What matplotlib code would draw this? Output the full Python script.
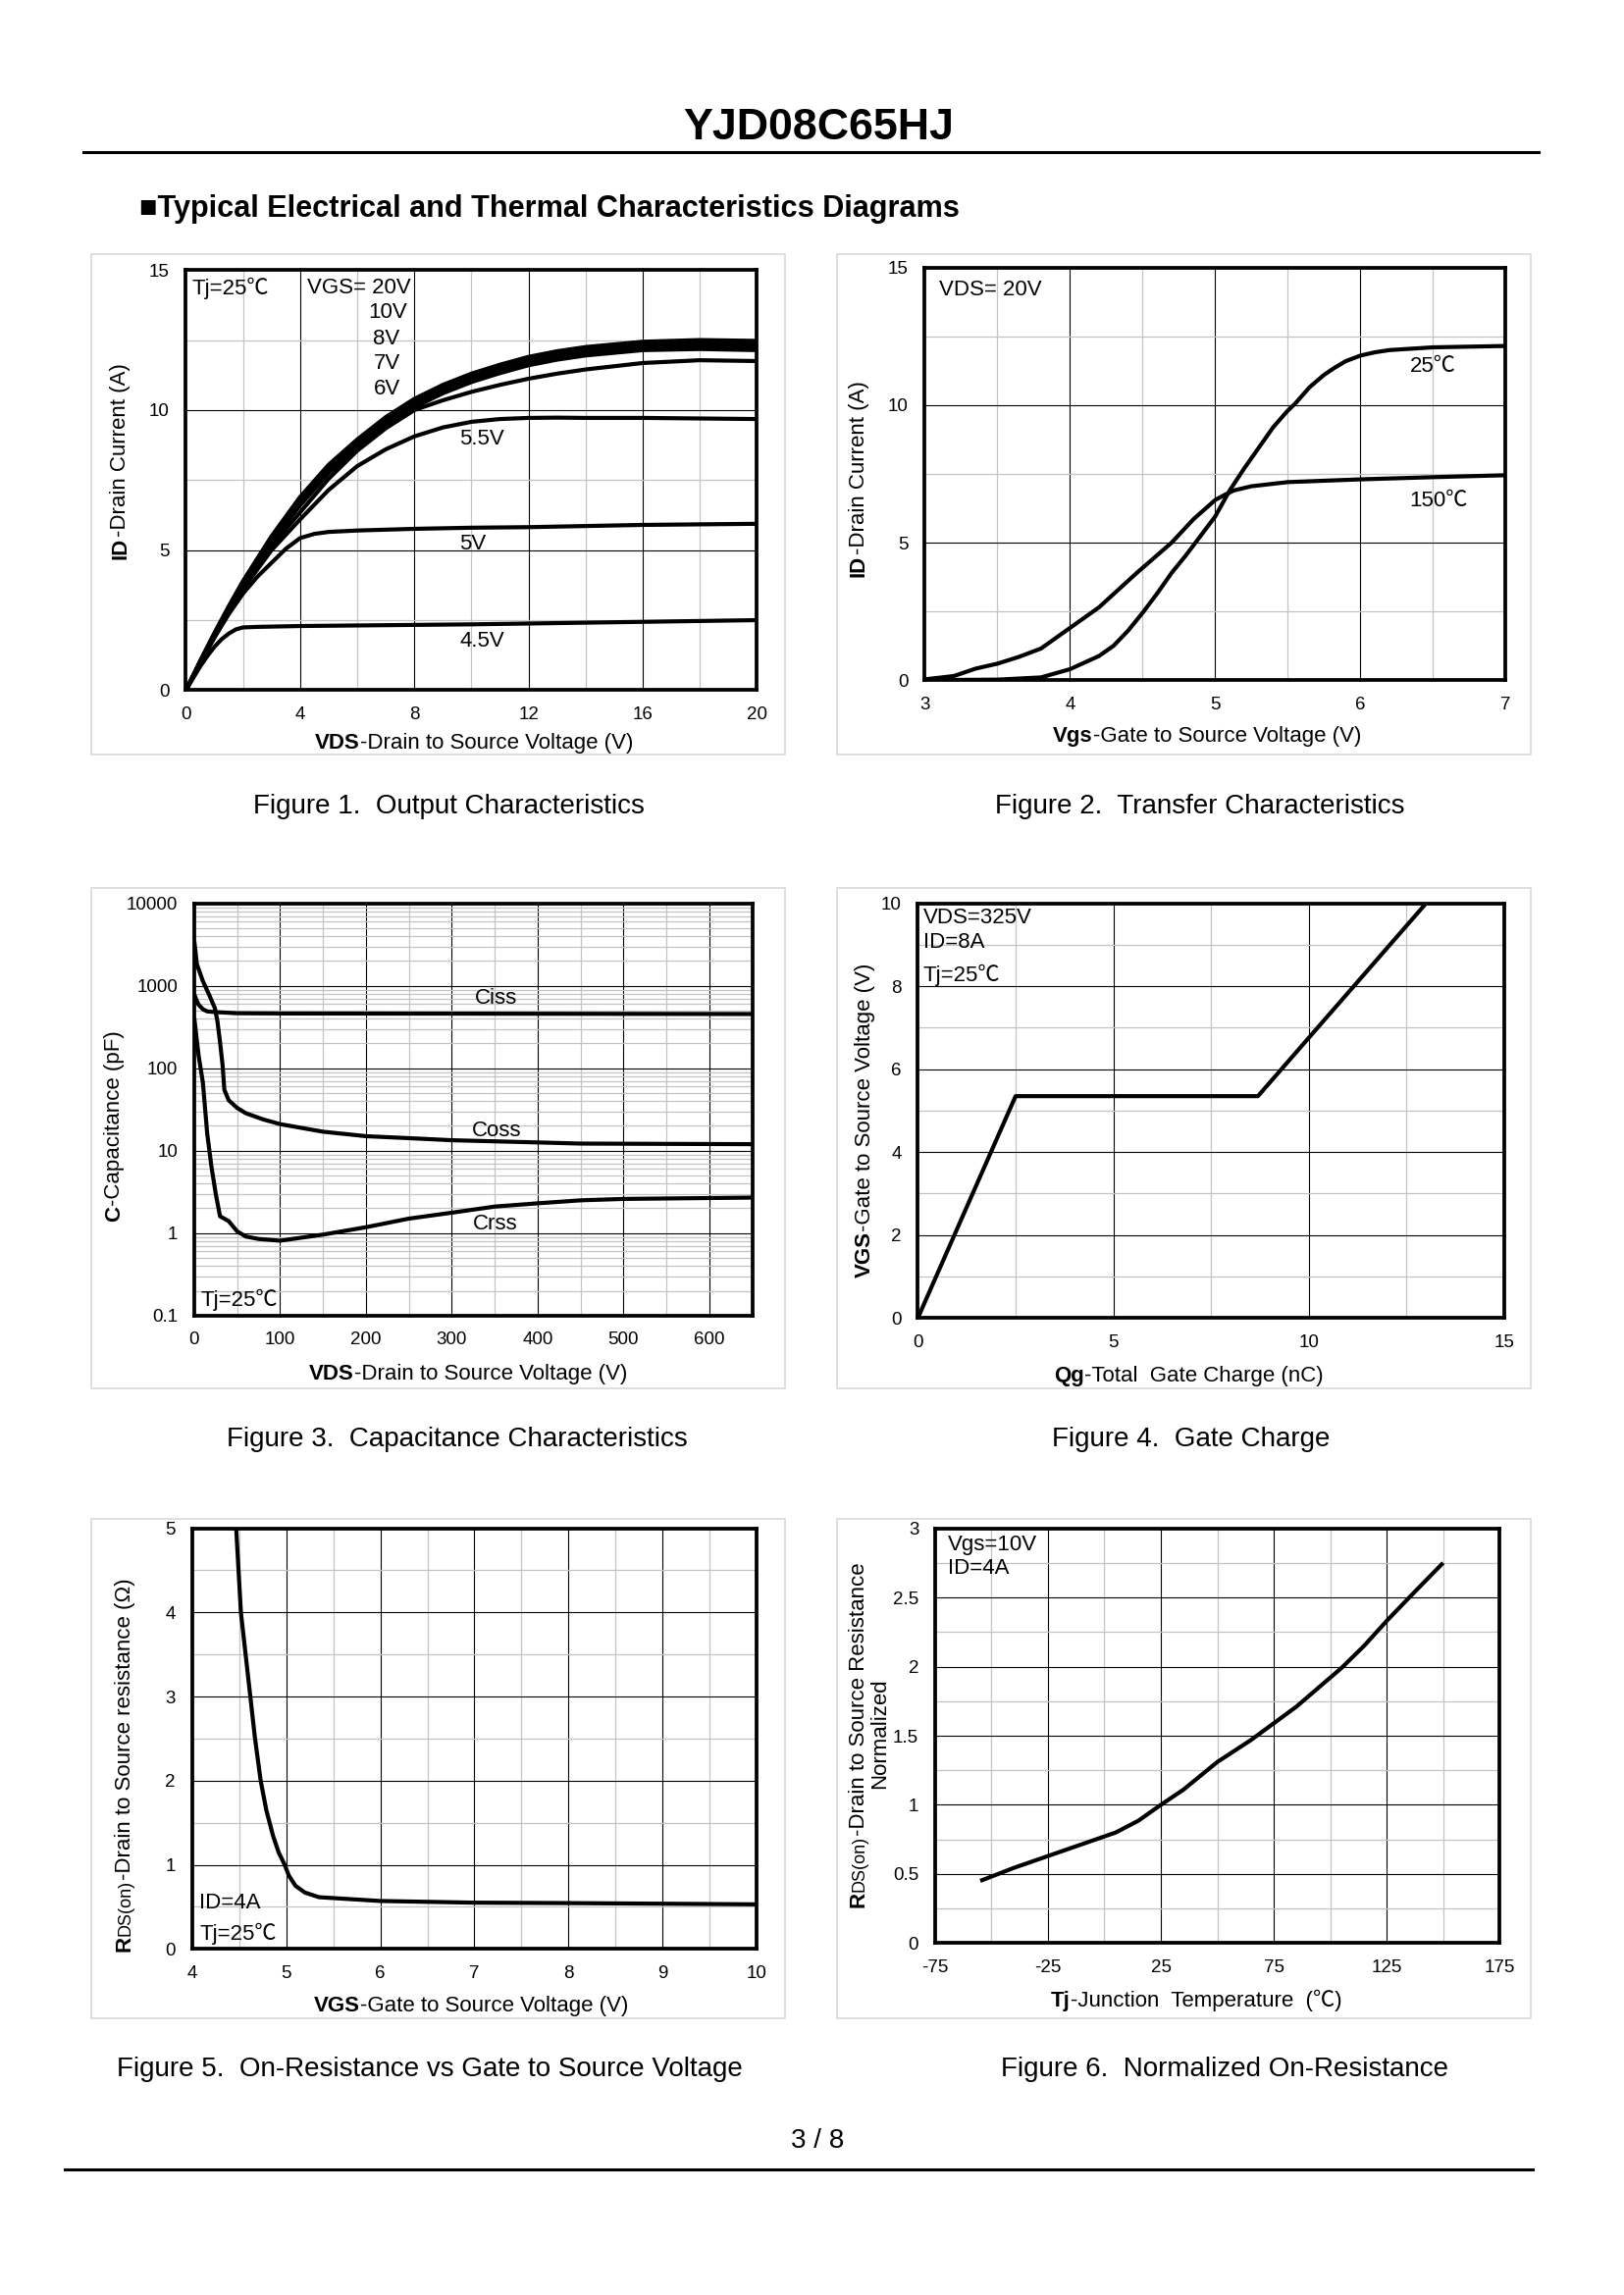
import matplotlib
matplotlib.use('Agg')
import matplotlib.pyplot as plt
import numpy as np
from matplotlib.patches import Rectangle
from matplotlib.lines import Line2D
from matplotlib.ticker import LogLocator, NullFormatter

plt.rcParams['font.family'] = ['Liberation Sans', 'Noto Sans CJK SC', 'DejaVu Sans']

W = 1656
H = 2339

# figure 1 - output characteristics
vds_out = [0, 0.5, 1, 1.5, 2, 3, 4, 5, 6, 7, 8, 9, 10, 11, 12, 13, 14, 16, 18, 20]
id_20v = [0, 1.05, 2.05, 3.0, 3.9, 5.5, 6.9, 8.05, 8.95, 9.75, 10.4, 10.9, 11.3, 11.62, 11.9, 12.1, 12.25, 12.44, 12.5, 12.47]
id_10v = [0, 1.03, 2.0, 2.95, 3.85, 5.42, 6.8, 7.95, 8.85, 9.65, 10.3, 10.8, 11.2, 11.52, 11.8, 12.0, 12.13, 12.32, 12.38, 12.35]
id_8v = [0, 1.02, 1.98, 2.9, 3.8, 5.35, 6.7, 7.85, 8.75, 9.55, 10.2, 10.7, 11.1, 11.42, 11.7, 11.9, 12.05, 12.24, 12.29, 12.25]
id_7v = [0, 1.0, 1.95, 2.85, 3.75, 5.28, 6.6, 7.75, 8.65, 9.45, 10.1, 10.6, 11.0, 11.32, 11.6, 11.8, 11.95, 12.14, 12.18, 12.14]
id_6v = [0, 0.98, 1.92, 2.8, 3.68, 5.15, 6.35, 7.55, 8.55, 9.35, 10.0, 10.35, 10.65, 10.9, 11.12, 11.3, 11.45, 11.68, 11.78, 11.75]
id_55v = [0, 0.98, 1.9, 2.78, 3.62, 5.0, 6.1, 7.15, 8.0, 8.6, 9.06, 9.38, 9.58, 9.68, 9.72, 9.73, 9.72, 9.72, 9.7, 9.68]
vds_5v = [0, 0.5, 1, 1.5, 2, 2.5, 3, 3.5, 4, 4.5, 5, 6, 8, 10, 12, 14, 16, 18, 20]
id_5v = [0, 0.97, 1.88, 2.72, 3.45, 4.05, 4.55, 5.05, 5.43, 5.58, 5.65, 5.7, 5.76, 5.8, 5.82, 5.86, 5.9, 5.92, 5.94]
vds_45v = [0, 0.5, 0.75, 1, 1.25, 1.5, 1.75, 2, 2.5, 3, 4, 6, 8, 10, 12, 14, 16, 18, 20]
id_45v = [0, 0.85, 1.22, 1.55, 1.82, 2.02, 2.17, 2.24, 2.26, 2.27, 2.29, 2.31, 2.33, 2.35, 2.38, 2.41, 2.44, 2.47, 2.5]

# figure 2 - transfer characteristics
vgs_25c = [3, 3.5, 3.8, 4, 4.2, 4.3, 4.4, 4.5, 4.6, 4.7, 4.8, 4.9, 5, 5.1, 5.2, 5.3, 5.4, 5.5, 5.55, 5.65, 5.75, 5.82, 5.9, 6, 6.1, 6.2, 6.5, 7]
id_25c = [0, 0.02, 0.1, 0.4, 0.88, 1.25, 1.8, 2.45, 3.15, 3.9, 4.55, 5.25, 5.95, 6.9, 7.7, 8.45, 9.2, 9.8, 10.05, 10.65, 11.1, 11.35, 11.6, 11.8, 11.92, 12.0, 12.1, 12.15]
vgs_150c = [3, 3.2, 3.35, 3.5, 3.65, 3.8, 4, 4.2, 4.46, 4.7, 4.85, 5, 5.07, 5.13, 5.25, 5.5, 6, 6.5, 7]
id_150c = [0.03, 0.15, 0.42, 0.6, 0.85, 1.15, 1.9, 2.65, 3.9, 5, 5.85, 6.55, 6.75, 6.9, 7.05, 7.2, 7.3, 7.38, 7.45]

# figure 3 - capacitance
v_ciss = [0, 2, 5, 10, 15, 25, 50, 100, 300, 650]
ciss = [790, 690, 590, 520, 490, 480, 465, 462, 460, 455]
v_coss = [0, 3, 10, 18, 24, 27, 30, 33, 35, 40, 50, 60, 80, 100, 150, 200, 250, 300, 400, 450, 650]
coss = [3500, 1830, 1140, 750, 535, 370, 208, 108, 55, 41, 33, 28.5, 24, 21, 17, 15, 14.2, 13.4, 12.6, 12.2, 12]
v_crss = [0, 5, 10, 15, 20, 25, 30, 40, 50, 60, 75, 100, 150, 200, 250, 300, 350, 400, 450, 500, 650]
crss = [405, 143, 67, 16.3, 6.4, 3.0, 1.6, 1.4, 1.05, 0.91, 0.85, 0.81, 0.96, 1.18, 1.5, 1.77, 2.1, 2.3, 2.5, 2.6, 2.7]

# figure 4 - gate charge
qg = [0, 2.5, 8.7, 13]
vgs_qg = [0, 5.35, 5.35, 10]

# figure 5 - on-resistance vs vgs
vgs_rds = [4.47, 4.52, 4.57, 4.62, 4.67, 4.73, 4.79, 4.86, 4.92, 4.985, 5.03, 5.1, 5.2, 5.35, 6, 7, 8, 10]
rds_vgs = [5, 4, 3.5, 3, 2.5, 2, 1.65, 1.35, 1.15, 1, 0.87, 0.75, 0.67, 0.615, 0.57, 0.55, 0.545, 0.53]

# figure 6 - normalized on-resistance
tj = [-55, -40, -25, -10, 5, 15, 25, 35, 50, 65, 75, 85, 95, 105, 115, 125, 135, 150]
rds_tj = [0.45, 0.545, 0.63, 0.715, 0.8, 0.885, 1.0, 1.11, 1.31, 1.47, 1.59, 1.71, 1.85, 1.99, 2.15, 2.33, 2.5, 2.75]

fig = plt.figure(figsize=(16.56, 23.39), dpi=100, facecolor='white')
renderer = fig.canvas.get_renderer()

GREY = '#c4c4c4'
FS = 16
TICK_FS = 13.5
CAP_FS = 20


def px_text(x, y, s, **kw):
    return fig.text(x / W, 1 - y / H, s, **kw)


# text with bold / small runs, centered on x,y (rotation 0 or 90)
def run_text(x, y, runs, rotation=0):
    items = []
    total = 0
    for s, weight, size in runs:
        t = px_text(0, 0, s, fontweight=weight, fontsize=size, ha='left', va='baseline', rotation=0)
        w = t.get_window_extent(renderer).width
        t.remove()
        items.append((s, weight, size, w))
        total += w
    pos = -total / 2
    for s, weight, size, w in items:
        if rotation == 0:
            px_text(x + pos, y, s, fontweight=weight, fontsize=size, ha='left', va='baseline')
        else:
            px_text(x, y - pos, s, fontweight=weight, fontsize=size, ha='left', va='baseline',
                    rotation=90, rotation_mode='anchor')
        pos += w


def panel(box, axes_box, xlim, ylim, xmajor, xminor, ymajor, yminor, xlabels=None, ylabels=None):
    x0, x1, y0, y1 = box
    fig.add_artist(Rectangle((x0 / W, 1 - y1 / H), (x1 - x0) / W, (y1 - y0) / H,
                             transform=fig.transFigure, fill=False, ec='#d9d9d9', lw=1.2))
    l, r, t, b = axes_box
    ax = fig.add_axes([l / W, 1 - b / H, (r - l) / W, (b - t) / H])
    ax.set_xlim(xlim)
    ax.set_ylim(ylim)
    ax.set_xticks(xmajor)
    ax.set_xticks(xminor, minor=True)
    ax.set_yticks(ymajor)
    if yminor is not None:
        ax.set_yticks(yminor, minor=True)
    if xlabels:
        ax.set_xticklabels(xlabels)
    if ylabels:
        ax.set_yticklabels(ylabels)
    ax.grid(True, which='major', color='black', lw=0.8)
    ax.grid(True, which='minor', color=GREY, lw=0.9)
    ax.set_axisbelow(True)
    ax.tick_params(which='both', length=0)
    ax.tick_params(axis='both', which='major', labelsize=TICK_FS, pad=12)
    for sp in ax.spines.values():
        sp.set_linewidth(2.7)
    return ax


def curve(ax, x, y):
    ax.plot(x, y, color='black', lw=3.0, solid_joinstyle='round', solid_capstyle='butt', zorder=3)


def note(ax, x, y, s, ha='left'):
    ax.text(x, y, s, fontsize=FS, ha=ha, va='center', zorder=4)


# header
px_text(834.6, 131, 'YJD08C65HJ', fontsize=32.2, fontweight='bold', ha='center', va='center')
fig.add_artist(Line2D([85 / W, 1568 / W], [1 - 155.3 / H, 1 - 155.3 / H], color='black', lw=2.2))
px_text(141.8, 213, '■Typical Electrical and Thermal Characteristics Diagrams', fontsize=22.1, fontweight='bold',
        ha='left', va='center')

# figure 1
ax = panel((92.7, 799.7, 259.3, 769.3), (189.5, 771.4, 275.2, 703.4), (0, 20), (0, 15),
           [0, 4, 8, 12, 16, 20], [2, 6, 10, 14, 18], [0, 5, 10, 15], [2.5, 7.5, 12.5])
for ys in [id_20v, id_10v, id_8v, id_7v, id_6v, id_55v]:
    curve(ax, vds_out, ys)
curve(ax, vds_5v, id_5v)
curve(ax, vds_45v, id_45v)
note(ax, 0.2, 14.35, 'Tj=25℃')
note(ax, 7.88, 14.35, 'VGS= 20V', ha='right')
note(ax, 7.75, 13.5, '10V', ha='right')
note(ax, 7.5, 12.55, '8V', ha='right')
note(ax, 7.5, 11.65, '7V', ha='right')
note(ax, 7.5, 10.75, '6V', ha='right')
note(ax, 10.35, 8.97, '5.5V', ha='center')
note(ax, 10.05, 5.23, '5V', ha='center')
note(ax, 10.38, 1.76, '4.5V', ha='center')
run_text(483, 763, [('VDS', 'bold', FS), ('-Drain to Source Voltage (V)', 'normal', FS)])
run_text(128.4, 470, [('ID', 'bold', FS), ('-Drain Current (A)', 'normal', FS)], rotation=90)
px_text(457, 822, 'Figure 1.  Output Characteristics', fontsize=CAP_FS, ha='center', va='center')

# figure 2
ax = panel((853.3, 1560.2, 258.6, 769.3), (942.5, 1534.3, 272.7, 693.2), (3, 7), (0, 15),
           [3, 4, 5, 6, 7], [3.5, 4.5, 5.5, 6.5], [0, 5, 10, 15], [2.5, 7.5, 12.5])
curve(ax, vgs_25c, id_25c)
curve(ax, vgs_150c, id_150c)
note(ax, 3.1, 14.2, 'VDS= 20V')
note(ax, 6.5, 11.4, '25℃', ha='center')
note(ax, 6.54, 6.5, '150℃', ha='center')
run_text(1230, 755.5, [('Vgs', 'bold', FS), ('-Gate to Source Voltage (V)', 'normal', FS)])
run_text(881, 488, [('ID', 'bold', FS), ('-Drain Current (A)', 'normal', FS)], rotation=90)
px_text(1223, 822, 'Figure 2.  Transfer Characteristics', fontsize=CAP_FS, ha='center', va='center')

# figure 3
ax = panel((92.7, 799.7, 904.5, 1414.8), (198, 766.6, 920.7, 1340.8), (0, 650), (0.1, 10000),
           [0, 100, 200, 300, 400, 500, 600], [50, 150, 250, 350, 450, 550, 650], [], None)
ax.set_yscale('log')
ax.set_ylim(0.1, 10000)
ax.set_yticks([0.1, 1, 10, 100, 1000, 10000], ['0.1', '1', '10', '100', '1000', '10000'])
ax.yaxis.set_minor_locator(LogLocator(base=10, subs=np.arange(2, 10) * 1.0, numticks=20))
ax.yaxis.set_minor_formatter(NullFormatter())
ax.tick_params(which='both', length=0)
curve(ax, v_ciss, ciss)
curve(ax, v_coss, coss)
curve(ax, v_crss, crss)
note(ax, 351, 705, 'Ciss', ha='center')
note(ax, 352, 17.3, 'Coss', ha='center')
note(ax, 351, 1.3, 'Crss', ha='center')
note(ax, 8, 0.155, 'Tj=25℃')
run_text(477, 1406, [('VDS', 'bold', FS), ('-Drain to Source Voltage (V)', 'normal', FS)])
run_text(122.4, 1148, [('C', 'bold', FS), ('-Capacitance (pF)', 'normal', FS)], rotation=90)
px_text(466, 1467, 'Figure 3.  Capacitance Characteristics', fontsize=CAP_FS, ha='center', va='center')

# figure 4
ax = panel((853.3, 1560.2, 904.5, 1414.8), (935.4, 1532.9, 920.7, 1343.2), (0, 15), (0, 10),
           [0, 5, 10, 15], [2.5, 7.5, 12.5], [0, 2, 4, 6, 8, 10], [1, 3, 5, 7, 9])
curve(ax, qg, vgs_qg)
note(ax, 0.13, 9.65, 'VDS=325V')
note(ax, 0.13, 9.05, 'ID=8A')
note(ax, 0.13, 8.27, 'Tj=25℃')
run_text(1211.5, 1408, [('Qg', 'bold', FS), ('-Total  Gate Charge (nC)', 'normal', FS)])
run_text(887, 1142, [('VGS', 'bold', FS), ('-Gate to Source Voltage (V)', 'normal', FS)], rotation=90)
px_text(1214, 1467, 'Figure 4.  Gate Charge', fontsize=CAP_FS, ha='center', va='center')

# figure 5
ax = panel((92.7, 799.7, 1548, 2057.2), (195.6, 771.4, 1557.6, 1986.3), (4, 10), (0, 5),
           [4, 5, 6, 7, 8, 9, 10], [4.5, 5.5, 6.5, 7.5, 8.5, 9.5], [0, 1, 2, 3, 4, 5], [0.5, 1.5, 2.5, 3.5, 4.5])
curve(ax, vgs_rds, rds_vgs)
note(ax, 4.08, 0.55, 'ID=4A')
note(ax, 4.08, 0.18, 'Tj=25℃')
run_text(480, 2050, [('VGS', 'bold', FS), ('-Gate to Source Voltage (V)', 'normal', FS)])
run_text(133, 1799, [('R', 'bold', FS), ('DS(on)', 'normal', FS - 3), ('-Drain to Source resistance (Ω)', 'normal', FS)],
         rotation=90)
px_text(437.5, 2109, 'Figure 5.  On-Resistance vs Gate to Source Voltage', fontsize=CAP_FS, ha='center', va='center')

# figure 6
ax = panel((853.3, 1560.2, 1548, 2057.2), (952.9, 1528.2, 1557.6, 1980.4), (-75, 175), (0, 3),
           [-75, -25, 25, 75, 125, 175], [-50, 0, 50, 100, 150], [0, 0.5, 1, 1.5, 2, 2.5, 3],
           [0.25, 0.75, 1.25, 1.75, 2.25, 2.75],
           xlabels=['-75', '-25', '25', '75', '125', '175'],
           ylabels=['0', '0.5', '1', '1.5', '2', '2.5', '3'])
curve(ax, tj, rds_tj)
note(ax, -69.5, 2.88, 'Vgs=10V')
note(ax, -69.5, 2.71, 'ID=4A')
run_text(1219, 2045, [('Tj', 'bold', FS), ('-Junction  Temperature  (℃)', 'normal', FS)])
run_text(881, 1768, [('R', 'bold', FS), ('DS(on)', 'normal', FS - 3), ('-Drain to Source Resistance', 'normal', FS)],
         rotation=90)
px_text(897, 1767, 'Normalized', fontsize=FS, rotation=90, ha='center', va='center')
px_text(1248, 2109, 'Figure 6.  Normalized On-Resistance', fontsize=CAP_FS, ha='center', va='center')

# footer
px_text(833, 2182, '3 / 8', fontsize=CAP_FS, ha='center', va='center')
fig.add_artist(Line2D([65.7 / W, 1562 / W], [1 - 2211 / H, 1 - 2211 / H], color='black', lw=2.2))

fig.savefig('out.png', dpi=100)
